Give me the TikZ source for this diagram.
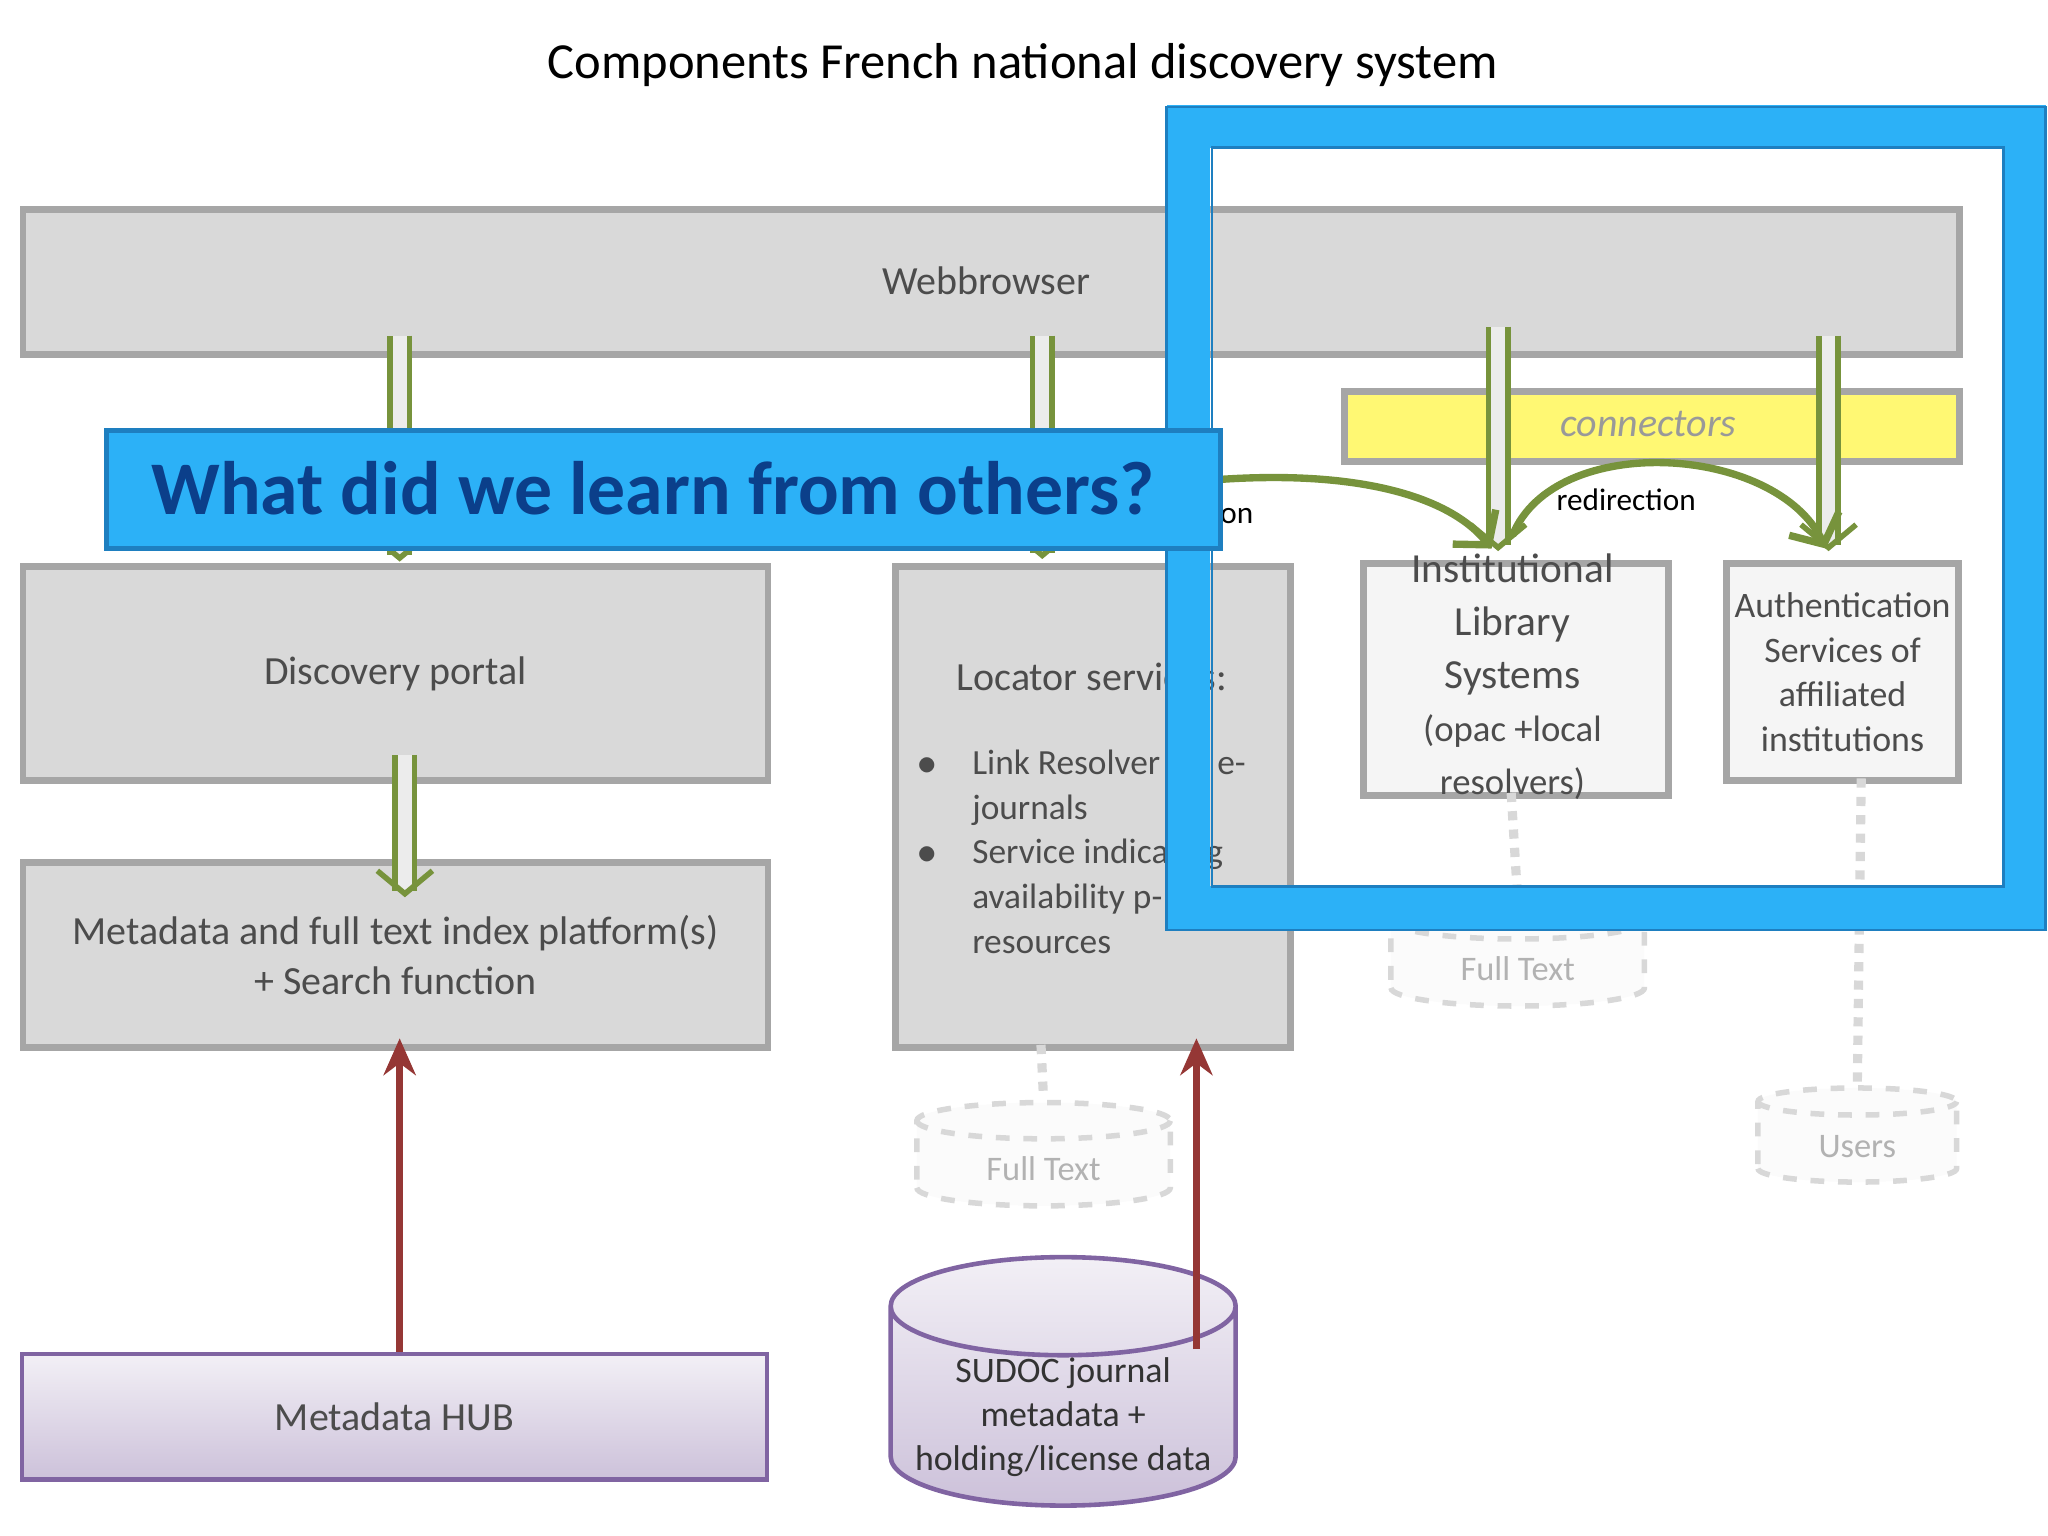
\documentclass[tikz,border=0pt]{standalone}
\usepackage{fontspec}
\setmainfont{Carlito}
\usetikzlibrary{positioning,shapes.geometric,arrows.meta}
\definecolor{boxgray}{HTML}{D9D9D9}
\definecolor{boxline}{HTML}{A6A6A6}
\definecolor{arrowgreen}{HTML}{77933C}
\definecolor{hubred}{HTML}{953735}
\definecolor{hubline}{HTML}{8064A2}
\definecolor{framecyan}{HTML}{2CB1F7}
\definecolor{frameedge}{HTML}{1E7FC0}
\definecolor{bannertext}{HTML}{0B3F8A}
\definecolor{fadegray}{HTML}{D8D8D8}
\tikzset{
  graybox/.style={draw=boxline, line width=1.5pt, fill=boxgray, text=black!70, font=\fontsize{8.7}{11}\selectfont},
  lightbox/.style={draw=boxline, line width=1.5pt, fill=gray!8, text=black!70, font=\fontsize{8}{11}\selectfont, align=center},
  hubbox/.style={draw=hubline, line width=1pt, top color=hubline!10, bottom color=hubline!40, text=black!70, font=\fontsize{8.7}{11}\selectfont},
  fadecyl/.style={cylinder, shape border rotate=90, aspect=0.25, draw=fadegray, dashed, line width=1.2pt, fill=gray!3, text=black!30, font=\fontsize{7.5}{10}\selectfont},
  hollow/.style={draw=arrowgreen, line width=1.2pt, double=gray!15, double distance=3pt, -{Straight Barb[length=5pt,width=12pt]}},
  curved/.style={draw=arrowgreen, line width=1.6pt, -{Straight Barb[length=5pt,width=12pt]}},
  fadeline/.style={draw=fadegray, dotted, line width=2pt},
  redarrow/.style={draw=hubred, line width=1.5pt, -{Stealth[length=8pt,width=7pt]}}
}
\begin{document}
\begin{tikzpicture}[x=0.01cm, y=-0.01cm]
\useasboundingbox (0,0) rectangle (1568,1176);

\node[font=\fontsize{11}{13}\selectfont] (title) at (783,50) {Components French national discovery system};

% boxes
\node[graybox, minimum width=14.82cm, minimum height=1.11cm, anchor=north west] (web) at (15,158) {};
\node[text=black!70, font=\fontsize{8.7}{11}\selectfont] at (755,215) {Webbrowser};
\node[graybox, minimum width=5.70cm, minimum height=1.64cm, anchor=north west] (portal) at (15,431) {Discovery portal};
\node[graybox, minimum width=5.70cm, minimum height=1.41cm, anchor=north west, align=center] (index) at (15,658) {Metadata and full text index platform(s)\\+ Search function};
\node[graybox, minimum width=3.02cm, minimum height=3.68cm, anchor=north west] (locator) at (683,431) {};
\node[text=black!70, font=\fontsize{8.7}{11}\selectfont, anchor=west] at (720,518) {Locator services:};
\node[text=black!70, font=\fontsize{7.7}{9.7}\selectfont, anchor=north west, align=left] at (690,562)
  {$\bullet$\quad Link Resolver for e-\\\phantom{$\bullet$}\quad journals\\$\bullet$\quad Service indicating\\\phantom{$\bullet$}\quad availability p-\\\phantom{$\bullet$}\quad resources};
\node[draw=boxline, line width=1.5pt, fill=yellow!55, minimum width=4.70cm, minimum height=0.54cm, anchor=north west] (conn) at (1027,297) {};
\node[text=black!40, font=\fontsize{8.7}{11}\itshape] at (1262,325) {connectors};
\node[lightbox, minimum width=2.34cm, minimum height=1.77cm, anchor=north west] (ils) at (1041,429) {};
\node[text=black!70, font=\fontsize{9}{11.5}\selectfont, align=center] at (1158,518) {Institutional\\Library\\Systems\\{\fontsize{8}{9.5}\selectfont(opac +local}\\{\fontsize{8}{9.5}\selectfont resolvers)}};
\node[lightbox, minimum width=1.78cm, minimum height=1.66cm, anchor=north west] (auth) at (1319,429) {};
\node[text=black!70, font=\fontsize{7.8}{9.7}\selectfont, align=center] at (auth.center) {Authentication\\Services of\\affiliated\\institutions};

% faded stores
\node[fadecyl, minimum width=1.94cm, minimum height=0.75cm] (ft1) at (799,895) {Full Text};
\node[fadecyl, minimum width=1.94cm, minimum height=0.6cm] (ft2) at (1162,742) {Full Text};
\node[fadecyl, minimum width=1.52cm, minimum height=0.72cm] (users) at (1422,878) {Users};
\draw[fadeline] (797,800) -- (ft1.top);
\draw[fadeline] (1157,607) -- (ft2.top);
\draw[fadeline] (1425,596) -- (users.top);

% sources
\node[hubbox, minimum width=5.70cm, minimum height=0.96cm, anchor=north west] (hub) at (15,1035) {Metadata HUB};
\node[cylinder, shape border rotate=90, aspect=0.3, draw=hubline, line width=1pt, top color=hubline!10, bottom color=hubline!40,
  inner ysep=0pt, minimum width=2.64cm, minimum height=1.4cm, text=black!80, font=\fontsize{7.8}{9.6}\selectfont, align=center] (sudoc) at (814,1085)
  {SUDOC journal\\metadata +\\holding/license data};
\draw[redarrow] (306,1035) -- (306,795);
\draw[redarrow] (916,1033) -- (916,795);

% flow arrows
\draw[hollow] (306,257) -- (306,430);
\draw[hollow] (798,257) -- (798,428);
\draw[hollow] (310,578) -- (310,687);
\draw[hollow] (1147,250) -- (1147,422);
\draw[hollow] (1400,257) -- (1400,422);
\draw[curved] (935,367) .. controls (1040,360) and (1110,380) .. (1142,420);
\draw[curved] (1158,410) .. controls (1190,330) and (1360,340) .. (1398,420);
\node[font=\fontsize{6.8}{8}\selectfont] at (1245,383) {redirection};
\node[font=\fontsize{6.8}{8}\selectfont] at (947,395) {on};

% highlight frame
\draw[framecyan, line width=0.33cm] (910,97) rectangle (1550,695);
\draw[frameedge, line width=0.6pt] (893,82) rectangle (1566,712);
\draw[frameedge, line width=0.6pt] (928,113) rectangle (1534,679);
\node[draw=frameedge, line width=1pt, fill=framecyan, minimum width=8.52cm, minimum height=0.9cm, anchor=north west] (banner) at (80,328) {};
\node[text=bannertext, font=\fontsize{16.5}{20}\bfseries] at (500,374) {What did we learn from others?};
\end{tikzpicture}
\end{document}
